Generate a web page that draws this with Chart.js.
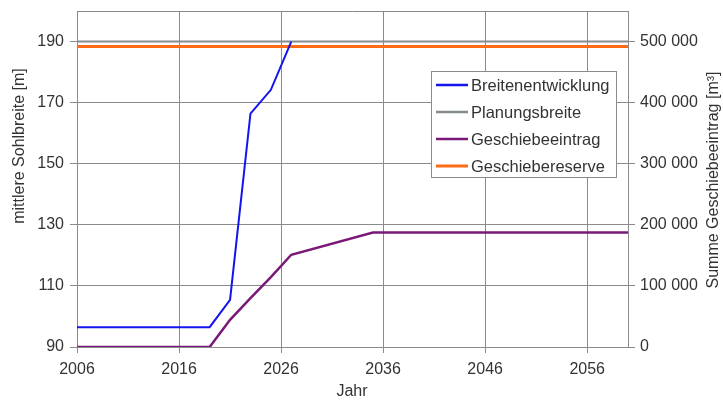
<!DOCTYPE html>
<html>
<head>
<meta charset="utf-8">
<script src="https://cdn.jsdelivr.net/npm/chart.js@4"></script>
<style>
  html, body { margin: 0; padding: 0; background: #fff; overflow: hidden; }
  #chart { display: block; }
</style>
</head>
<body>
<canvas id="chart" width="723" height="402"></canvas>
<script>
// data
const breiteJahre = [2006, 2019, 2021, 2023, 2025, 2027];
const breiteWerte = [96.5, 96.5, 105.4, 166.4, 174.2, 190];

const planungJahre = [2006, 2060];
const planungWerte = [190, 190];

const eintragJahre = [2006, 2019, 2021, 2023, 2025, 2027, 2035, 2060];
const eintragWerte = [0, 0, 44500, 80000, 114500, 151000, 187500, 187500];

const reserveJahre = [2006, 2060];
const reserveWerte = [492000, 492000];

const xTicks = [2006, 2016, 2026, 2036, 2046, 2056];
const yTicks = [90, 110, 130, 150, 170, 190];
const y2Ticks = [0, 100000, 200000, 300000, 400000, 500000];

const seriesNames = ["Breitenentwicklung", "Planungsbreite", "Geschiebeeintrag", "Geschiebereserve"];
const seriesColors = ["#1414ee", "#848c90", "#7a1878", "#ff6a14"];

const gridColor = "#8a8a8a";
const textColor = "#333333";
const fontFamily = "'Liberation Sans', Arial, sans-serif";

function toPoints(xs, ys) {
  return xs.map((x, i) => ({ x: x, y: ys[i] }));
}

function fixTicks(values) {
  return function (scale) {
    scale.ticks = values.map((v) => ({ value: v }));
  };
}

// fixed axis size, no extra label padding at the ends
function fixSize(prop, size) {
  return function (scale) {
    scale[prop] = size;
    scale.paddingTop = 0;
    scale.paddingBottom = 0;
  };
}

/** Legend box inside the plot */
const legendBox = {
  id: "legendBox",
  afterDraw(chart) {
    const ctx = chart.ctx;
    const left = 431, top = 71, w = 185, h = 106;
    ctx.save();
    ctx.fillStyle = "#fff";
    ctx.fillRect(left, top, w, h);
    ctx.strokeStyle = "#8a8a8a";
    ctx.lineWidth = 1;
    ctx.strokeRect(left + 0.5, top + 0.5, w, h);
    ctx.font = "16.5px " + fontFamily;
    ctx.textBaseline = "middle";
    ctx.fillStyle = textColor;
    seriesNames.forEach((name, i) => {
      const y = 85 + i * 27;
      ctx.strokeStyle = seriesColors[i];
      ctx.lineWidth = i === 3 ? 3 : 2.5;
      ctx.beginPath();
      ctx.moveTo(436, y);
      ctx.lineTo(468, y);
      ctx.stroke();
      ctx.fillText(name, 471, y + 1);
    });
    ctx.restore();
  },
};

/** Frame and axis titles */
const frameAndTitles = {
  id: "frameAndTitles",
  afterDatasetsDraw(chart) {
    const a = chart.chartArea;
    const ctx = chart.ctx;
    ctx.save();
    ctx.strokeStyle = gridColor;
    ctx.lineWidth = 1;
    ctx.beginPath();
    ctx.moveTo(a.left, a.top + 0.5);
    ctx.lineTo(a.right, a.top + 0.5);
    ctx.stroke();
    ctx.restore();
  },
  afterDraw(chart) {
    const ctx = chart.ctx;
    ctx.save();
    ctx.font = "16px " + fontFamily;
    ctx.fillStyle = textColor;
    ctx.textAlign = "center";
    ctx.textBaseline = "middle";
    ctx.fillText("Jahr", 352, 392);

    ctx.translate(20, 146);
    ctx.rotate(-Math.PI / 2);
    ctx.fillText("mittlere Sohlbreite [m]", 0, 0);
    ctx.restore();

    ctx.save();
    ctx.font = "16px " + fontFamily;
    ctx.fillStyle = textColor;
    ctx.textAlign = "center";
    ctx.textBaseline = "middle";
    ctx.translate(714, 180);
    ctx.rotate(-Math.PI / 2);
    ctx.fillText("Summe Geschiebeeintrag [m³]", 0, 0);
    ctx.restore();
  },
};

Chart.defaults.font.family = fontFamily;
Chart.defaults.font.size = 16;
Chart.defaults.color = textColor;

const ctx = document.getElementById("chart").getContext("2d");

new Chart(ctx, {
  type: "line",
  data: {
    datasets: [
      {
        label: seriesNames[0],
        data: toPoints(breiteJahre, breiteWerte),
        borderColor: seriesColors[0],
        borderWidth: 2,
        yAxisID: "y",
      },
      {
        label: seriesNames[1],
        data: toPoints(planungJahre, planungWerte),
        borderColor: seriesColors[1],
        borderWidth: 2,
        yAxisID: "y",
      },
      {
        label: seriesNames[2],
        data: toPoints(eintragJahre, eintragWerte),
        borderColor: seriesColors[2],
        borderWidth: 2.5,
        yAxisID: "y2",
      },
      {
        label: seriesNames[3],
        data: toPoints(reserveJahre, reserveWerte),
        borderColor: seriesColors[3],
        borderWidth: 3,
        yAxisID: "y2",
      },
    ],
  },
  options: {
    responsive: false,
    animation: false,
    devicePixelRatio: 1,
    layout: { padding: { top: 11, left: 0, right: 0, bottom: 0 } },
    elements: { point: { radius: 0 }, line: { tension: 0 } },
    plugins: {
      legend: { display: false },
      tooltip: { enabled: false },
    },
    scales: {
      x: {
        type: "linear",
        min: 2006,
        max: 2060,
        afterBuildTicks: fixTicks(xTicks),
        afterFit: (scale) => { scale.height = 55; },
        grid: { color: gridColor, tickLength: 6 },
        border: { color: gridColor },
        ticks: { padding: 7, maxRotation: 0, callback: (v) => String(v) },
      },
      y: {
        position: "left",
        min: 90,
        max: 200,
        afterBuildTicks: fixTicks(yTicks),
        afterFit: fixSize("width", 77),
        grid: { color: gridColor, tickLength: 7 },
        border: { color: gridColor },
        ticks: { padding: 6 },
      },
      y2: {
        position: "right",
        min: 0,
        max: 550000,
        afterBuildTicks: fixTicks(y2Ticks),
        afterFit: fixSize("width", 95),
        grid: { drawOnChartArea: false, color: gridColor, tickLength: 7 },
        border: { color: gridColor },
        ticks: {
          padding: 5,
          callback: (v) => String(v).replace(/\B(?=(\d{3})+(?!\d))/g, " "),
        },
      },
    },
  },
  plugins: [frameAndTitles, legendBox],
});
</script>
</body>
</html>
